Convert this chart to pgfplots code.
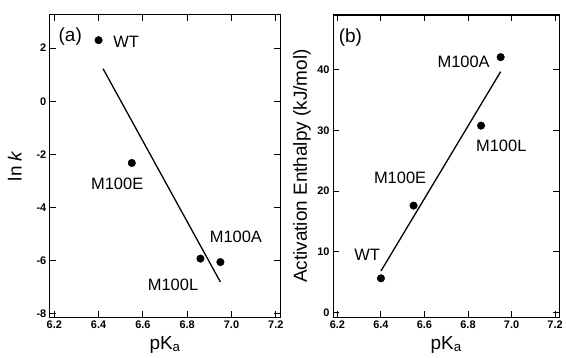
\documentclass[border=0pt]{standalone}
\usepackage{pgfplots}
\pgfplotsset{compat=1.18}
\usepackage{fontspec}
\setmainfont{Liberation Sans}
\tikzset{
  ann/.style={font=\fontsize{16.5}{19}\selectfont, anchor=center},
  annb/.style={font=\fontsize{19}{21}\selectfont, anchor=center},
}
\pgfplotsset{
  myax/.style={
    scale only axis,
    height=303pt,
    xmin=6.18, xmax=7.22,
    xtick={6.2,6.4,6.6,6.8,7.0,7.2},
    xticklabels={6.2,6.4,6.6,6.8,7.0,7.2},
    tick align=inside,
    tick pos=both,
    major tick length=6pt,
    axis line style={line width=1.1pt},
    every tick/.style={black, line width=1pt},
    /pgf/number format/assume math mode=true,
    tick label style={font=\fontsize{11}{12}\selectfont\bfseries},
    label style={font=\fontsize{19}{21}\selectfont},
    xlabel={pK\textsubscript{a}},
    every axis x label/.append style={at={(axis description cs:0.5,-0.106)}, anchor=base},
    clip=false,
  },
  dots/.style={only marks, mark=*, mark size=3.8pt, mark options={fill=black, draw=black}},
  fit/.style={no marks, line width=1.3pt, black},
}
\begin{document}
\begin{tikzpicture}
\path (0,0) rectangle (566pt,359pt);
\begin{axis}[myax,
  at={(50pt,41pt)}, anchor=south west, width=231pt,
  ymin=-8.12, ymax=3.25,
  ytick={-8,-6,-4,-2,0,2},
  ylabel={ln \textit{k}},
  every axis y label/.append style={at={(axis description cs:-0.152,0.5)}, anchor=center},
]
\addplot[dots] coordinates {(6.40,2.3) (6.55,-2.32) (6.86,-5.92) (6.95,-6.05)};
\addplot[fit] coordinates {(6.42,1.23) (6.95,-6.8)};
\node[annb] at (axis cs:6.272,2.45) {(a)};
\node[ann] at (axis cs:6.524,2.22) {WT};
\node[ann] at (axis cs:6.484,-3.12) {M100E};
\node[ann] at (axis cs:7.02,-5.10) {M100A};
\node[ann] at (axis cs:6.736,-6.90) {M100L};
\end{axis}
\begin{axis}[myax,
  at={(334pt,41pt)}, anchor=south west, width=227pt,
  ymin=-0.8, ymax=49.06,
  ytick={0,10,20,30,40},
  ylabel={Activation Enthalpy (kJ/mol)},
  every axis y label/.append style={at={(axis description cs:-0.137,0.5)}, anchor=center},
]
\addplot[dots] coordinates {(6.40,5.6) (6.55,17.6) (6.86,30.8) (6.95,42.1)};
\addplot[fit] coordinates {(6.40,6.8) (6.95,39.7)};
\node[annb] at (axis cs:6.26,45.3) {(b)};
\node[ann] at (axis cs:6.78,41.3) {M100A};
\node[ann] at (axis cs:6.953,27.5) {M100L};
\node[ann] at (axis cs:6.488,22.1) {M100E};
\node[ann] at (axis cs:6.337,9.55) {WT};
\end{axis}
\end{tikzpicture}
\end{document}
